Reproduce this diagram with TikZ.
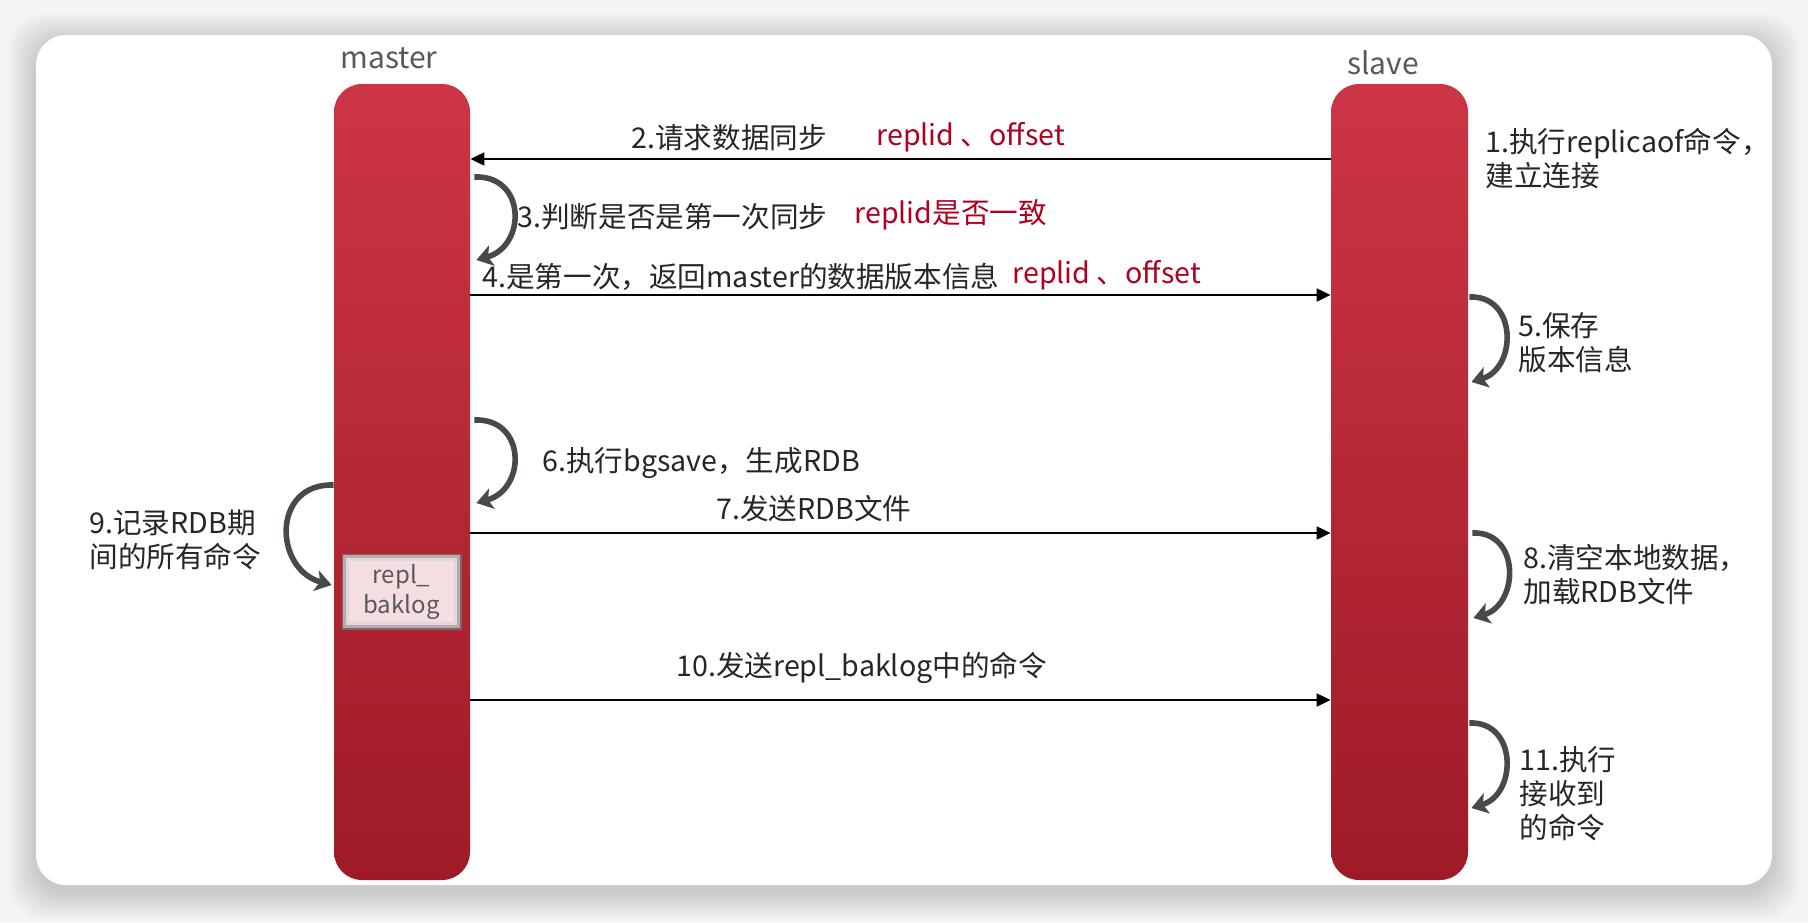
\documentclass[tikz,border=0pt]{standalone}
\usepackage{fontspec}
\newfontfamily\cjk{Noto Sans CJK SC}
\usetikzlibrary{arrows.meta,calc}
\definecolor{barTop}{HTML}{CD3545}
\definecolor{barBot}{HTML}{9F1A27}
\definecolor{hl}{HTML}{B0001E}
\definecolor{txt}{HTML}{262626}
\definecolor{curvc}{HTML}{474A4A}
\definecolor{bg}{HTML}{F4F4F4}
\definecolor{lbl}{HTML}{595959}
\definecolor{boxfill}{HTML}{F4DEE1}
\definecolor{boxedge}{HTML}{7E6468}
\begin{document}
\begin{tikzpicture}[x=0.5pt,y=-0.5pt,
  every node/.style={font=\cjk\fontsize{14.3}{17}\selectfont, text=txt, inner sep=0pt},
  bar/.style={rectangle, rounded corners=14pt, minimum width=68pt, minimum height=398pt, top color=barTop, bottom color=barBot},
  msg/.style={draw=black, line width=1pt, -{Triangle[length=7pt,width=6.5pt]}},
  loopar/.style={draw=curvc, line width=2.8pt, -{Stealth[length=8pt,width=10.5pt,inset=2pt]}},
  lab/.style={anchor=west, align=left},
  hltext/.style={anchor=west, text=hl},
  head/.style={font=\cjk\fontsize{15}{17}\selectfont, text=lbl}
]
\useasboundingbox (0,0) rectangle (1808,922);
\fill[bg] (0,0) rectangle (1808,922);
% card shadow
\foreach \i in {1,...,14}{
  \fill[black, opacity=0.012, rounded corners=18pt] ($(36,41)+(-\i*2,-\i*2)$) rectangle ($(1772,891)+(\i*2,\i*2)$);
}
\fill[white, rounded corners=15pt] (36,35) rectangle (1772,885);

% lifelines
\node[bar] (mbar) at (402,482) {};
\node[bar, minimum width=68.5pt] (sbar) at (1399.5,482) {};
\node[head] (mlabel) at (389,58) {master};
\node[head] (slabel) at (1383,63) {slave};

% repl_baklog box
\node[rectangle, minimum width=58.5pt, minimum height=36.5pt, fill=boxfill, draw=boxedge, line width=1.5pt, align=center, font=\cjk\fontsize{12}{15}\selectfont, text=lbl] (rb) at (401.5,591.5) {repl\_\\baklog};
\draw[boxedge!55, line width=1.5pt] ($(rb.north west)+(3,3)$) rectangle ($(rb.south east)+(-3,-3)$);
\draw[boxedge!25, line width=1.5pt] ($(rb.north west)+(6,6)$) rectangle ($(rb.south east)+(-6,-6)$);

% row coordinates
\coordinate (y2) at (0,159);
\coordinate (y4) at (0,295);
\coordinate (y7) at (0,533);
\coordinate (y10) at (0,700);
\coordinate (y3a) at (0,177);
\coordinate (y3b) at (0,260);
\coordinate (y6a) at (0,420);
\coordinate (y6b) at (0,503);
\coordinate (y9a) at (0,485);
\coordinate (y9b) at (0,585);
\coordinate (y5a) at (0,297);
\coordinate (y5b) at (0,382);
\coordinate (y8a) at (0,533);
\coordinate (y8b) at (0,618);
\coordinate (y11a) at (0,723);
\coordinate (y11b) at (0,808);

% messages
\draw[msg] (sbar.west |- y2) -- (mbar.east |- y2);
\draw[msg] (mbar.east |- y4) -- (sbar.west |- y4);
\draw[msg] (mbar.east |- y7) -- (sbar.west |- y7);
\draw[msg] (mbar.east |- y10) -- (sbar.west |- y10);

% self loops
\draw[loopar] ($(mbar.east |- y3a)+(4,0)$) .. controls +(52,-2) and +(50,-14) .. ($(mbar.east |- y3b)+(6,0)$);
\draw[loopar] ($(mbar.east |- y6a)+(4,0)$) .. controls +(52,-2) and +(50,-14) .. ($(mbar.east |- y6b)+(6,0)$);
\draw[loopar] (mbar.west |- y9a) .. controls +(-62,-2) and +(-58,-16) .. ($(mbar.west |- y9b)+(-2,0)$);
\draw[loopar] ($(sbar.east |- y5a)+(1,0)$) .. controls +(48,-2) and +(46,-14) .. ($(sbar.east |- y5b)+(3,0)$);
\draw[loopar] ($(sbar.east |- y8a)+(4,0)$) .. controls +(48,-2) and +(46,-14) .. ($(sbar.east |- y8b)+(5,0)$);
\draw[loopar] ($(sbar.east |- y11a)+(1,0)$) .. controls +(48,-2) and +(46,-14) .. ($(sbar.east |- y11b)+(3,0)$);

% labels
\node[lab] (t2) at (631,138) {2.请求数据同步};
\node[hltext] (r2) at (876,137) {replid 、offset};
\node[lab] (t3) at (517,217) {3.判断是否是第一次同步};
\node[hltext] (r3) at (854,215) {replid是否一致};
\node[lab] (t4) at (482,277) {4.是第一次，返回master的数据版本信息};
\node[hltext] (r4) at (1012,275) {replid 、offset};
\node[lab] (t1) at (1485,158.5) {1.执行replicaof命令，\\建立连接};
\node[lab] (t5) at (1518,342.5) {5.保存\\版本信息};
\node[lab] (t6) at (542,463) {6.执行bgsave，生成RDB};
\node[lab] (t7) at (716,509) {7.发送RDB文件};
\node[lab] (t8) at (1523,574.5) {8.清空本地数据，\\加载RDB文件};
\node[lab] (t9) at (89,540) {9.记录RDB期\\间的所有命令};
\node[lab] (t10) at (676,668) {10.发送repl\_baklog中的命令};
\node[lab] (t11) at (1519,794) {11.执行\\接收到\\的命令};
\end{tikzpicture}
\end{document}
